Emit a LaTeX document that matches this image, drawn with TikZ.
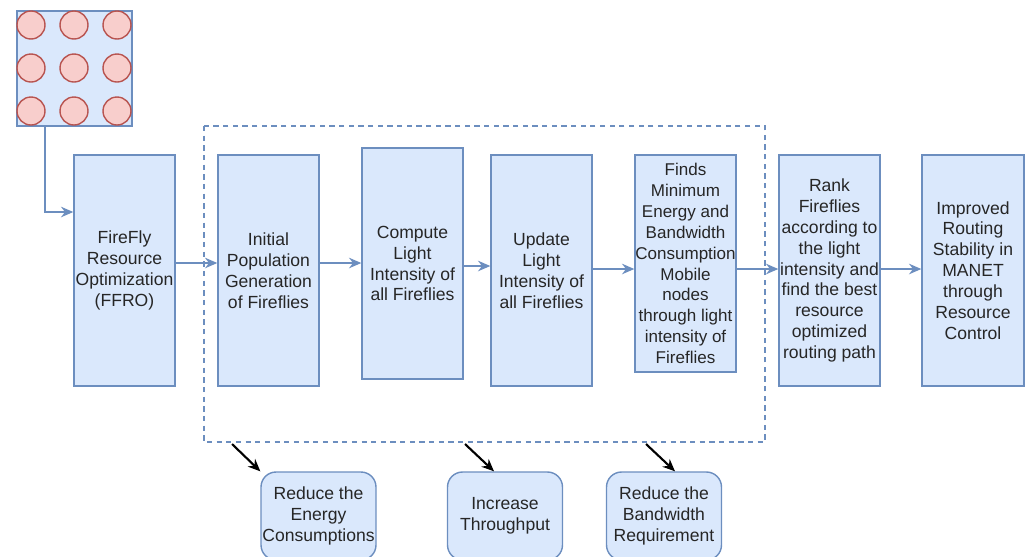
\documentclass[tikz,border=0pt]{standalone}
\usepackage{fontspec}
\setmainfont{Liberation Sans}
\usepackage{xcolor}
\usepackage{tikz}
\usetikzlibrary{arrows.meta}

\definecolor{boxfill}{HTML}{DAE8FC}
\definecolor{boxline}{HTML}{6C8EBF}
\definecolor{bugfill}{HTML}{F8CECC}
\definecolor{bugline}{HTML}{B85450}

\tikzset{
  step box/.style={draw=boxline, fill=boxfill, line width=0.8pt, minimum width=2.02cm, minimum height=4.62cm, align=center, inner sep=0pt, font=\fontsize{10}{11.9}\selectfont, text=black!85},
  goal box/.style={draw=boxline, fill=boxfill, line width=0.8pt, rounded corners=0.3cm, minimum width=2.3cm, minimum height=1.76cm, align=center, inner sep=0pt, font=\fontsize{10}{11.9}\selectfont, text=black!85},
  flow/.style={draw=boxline, line width=0.9pt, -{Stealth[length=7pt,width=6pt]}},
  effect/.style={draw=black, line width=1.2pt, -{Stealth[length=7pt,width=6pt]}}
}

\begin{document}
\begin{tikzpicture}[x=0.02cm, y=-0.02cm]
  \useasboundingbox (0,0) rectangle (1027,556);
  \def\r{0.28cm}; %circle radius%

  % population of fireflies %
  \node[draw=boxline, fill=boxfill, line width=0.8pt, minimum size=2.3cm, inner sep=0pt] (grid) at (74.5,68.5) {};
  \foreach \i in {0,1,2}
    \foreach \j in {0,1,2}
      \draw[fill=bugfill, draw=bugline, line width=0.8pt] ({31+43*\i},{25+43*\j}) circle [radius=\r];

  % main steps %
  \node[step box] (ffro) at (124.5,270.5) {FireFly\\Resource\\Optimization\\(FFRO)};
  \node[step box] (init) at (268.5,270.5) {Initial\\Population\\Generation\\of Fireflies};
  \node[step box] (comp) at (412.5,263.5) {Compute\\Light\\Intensity of\\all Fireflies};
  \node[step box] (upd) at (541.5,270.5) {Update\\Light\\Intensity of\\all Fireflies};
  \node[step box, minimum height=4.34cm, font=\fontsize{9.7}{11.9}\selectfont] (finds) at (685.5,263.5) {Finds\\Minimum\\Energy and\\Bandwidth\\Consumption\\Mobile\\nodes\\through light\\intensity of\\Fireflies};
  \node[step box] (rank) at (829.5,270.5) {Rank\\Fireflies\\according to\\the light\\intensity and\\find the best\\resource\\optimized\\routing path};
  \node[step box, minimum width=2.04cm] (impr) at (973,270.5) {Improved\\Routing\\Stability in\\MANET\\through\\Resource\\Control};

  % dashed frame %
  \coordinate (D1) at (204,126);
  \coordinate (D2) at (765,442);
  \draw[boxline, line width=0.8pt, dash pattern=on 3pt off 2.5pt] (D1) rectangle (D2);

  % goals %
  \node[goal box] (energy) at (318.5,516) {Reduce the\\Energy\\Consumptions};
  \node[goal box] (thru) at (505,516) {Increase\\Throughput};
  \node[goal box] (band) at (664,516) {Reduce the\\Bandwidth\\Requirement};

  % connectors %
  \coordinate (g) at (45,212);
  \coordinate (r1) at (0,263);
  \coordinate (r2) at (0,266);
  \coordinate (r3) at (0,269);
  \draw[flow] (grid.south -| g) |- (ffro.west |- g);
  \draw[flow] (ffro.east |- r1) -- (init.west |- r1);
  \draw[flow] (init.east |- r1) -- (comp.west |- r1);
  \draw[flow] (comp.east |- r2) -- (upd.west |- r2);
  \draw[flow] (upd.east |- r3) -- (finds.west |- r3);
  \draw[flow] (finds.east |- r3) -- (rank.west |- r3);
  \draw[flow] (rank.east |- r3) -- (impr.west |- r3);

  \coordinate (e1) at (232,444);
  \coordinate (e2) at (465,444);
  \coordinate (e3) at (646,444);
  \draw[effect] (e1) -- (energy.north west);
  \draw[effect] (e2) -- ([xshift=-0.22cm]thru.north);
  \draw[effect] (e3) -- ([xshift=0.22cm]band.north);
\end{tikzpicture}
\end{document}
